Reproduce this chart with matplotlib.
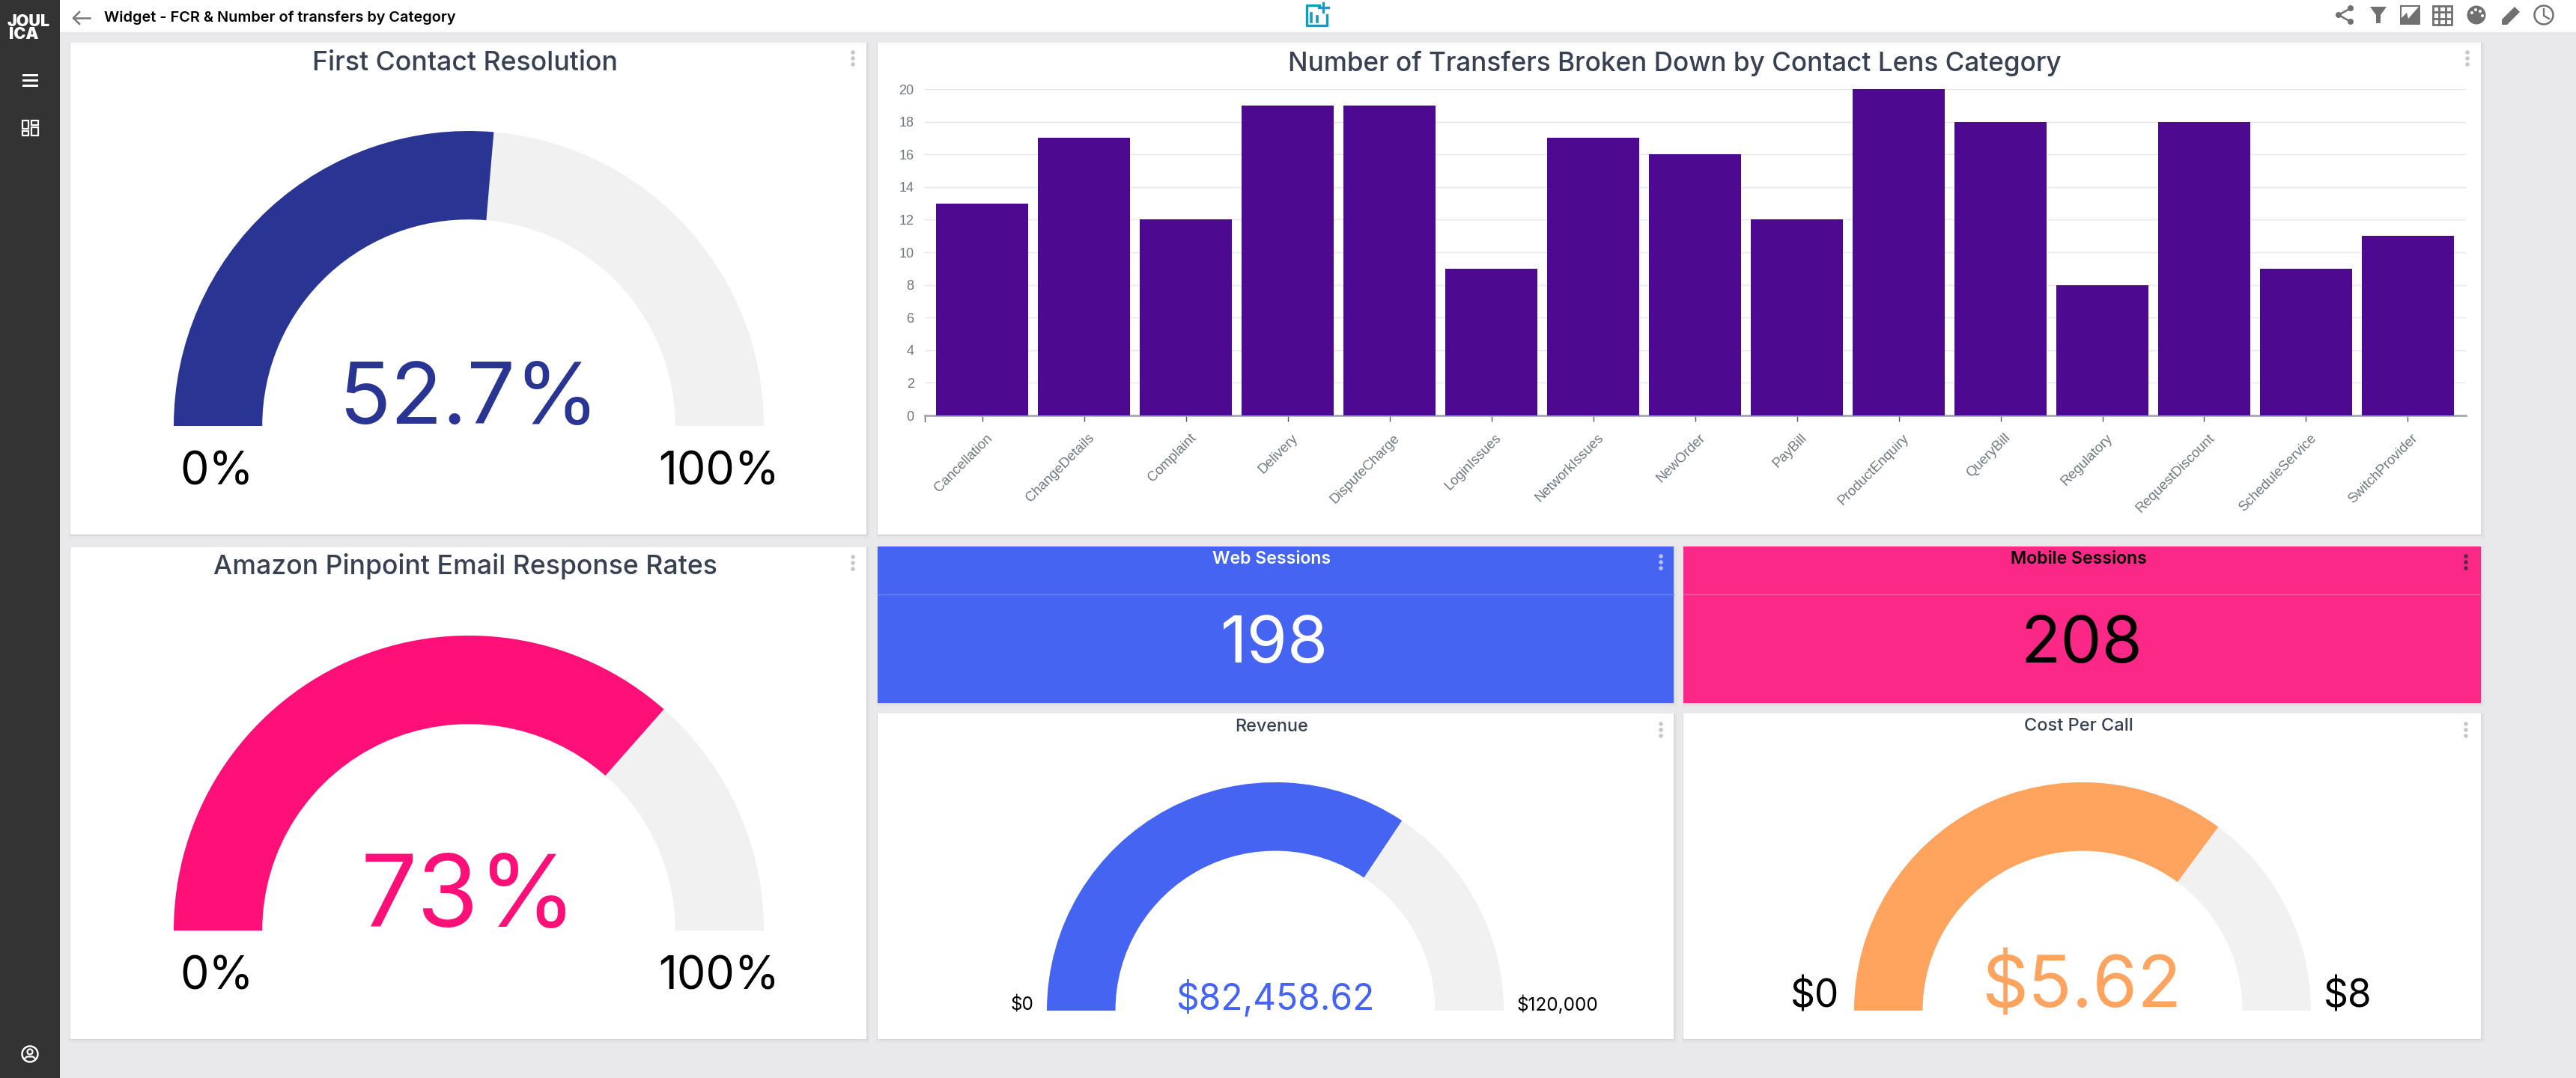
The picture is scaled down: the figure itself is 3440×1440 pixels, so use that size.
from matplotlib.patches import Circle, Polygon, Rectangle, Wedge
from matplotlib.transforms import ScaledTranslation
import matplotlib.pyplot as plt

W, H = 3440, 1440

categories = ["Cancellation", "ChangeDetails", "Complaint", "Delivery", "DisputeCharge",
              "LoginIssues", "NetworkIssues", "NewOrder", "PayBill", "ProductEnquiry",
              "QueryBill", "Regulatory", "RequestDiscount", "ScheduleService", "SwitchProvider"]
transfers = [13, 17, 12, 19, 19, 9, 17, 16, 12, 20, 18, 8, 18, 9, 11]
y_ticks = [0, 2, 4, 6, 8, 10, 12, 14, 16, 18, 20]

fcr_value, fcr_max = 52.7, 100
email_value, email_max = 73, 100
revenue_value, revenue_max = 82458.62, 120000
cost_value, cost_max = 5.62, 8
web_sessions = 198
mobile_sessions = 208

plt.rcParams["font.family"] = ["Inter", "DejaVu Sans"]

fig = plt.figure(figsize=(W / 100, H / 100), dpi=100, facecolor="#E9E9EB")
bg = fig.add_axes([0, 0, 1, 1])
bg.set_xlim(0, W)
bg.set_ylim(H, 0)
bg.axis("off")


def card(x0, y0, x1, y1, color="white"):
    for off, c in [(5, "#E4E4E6"), (2, "#D9D9DB")]:
        bg.add_patch(Rectangle((x0 - 1, y0), x1 - x0 + 1 + off, y1 - y0 + off, fc=c, ec="none"))
    bg.add_patch(Rectangle((x0, y0), x1 - x0, y1 - y0, fc=color, ec="none"))


def dots(x, y, color="#C8C8C8"):
    for dy in (0, 8, 16):
        bg.add_patch(Circle((x, y + dy), 2.8, fc=color, ec="none"))


def gauge(cx, base, radius, hole, value, vmax, color):
    ax = fig.add_axes([(cx - radius) / W, 1 - base / H, 2 * radius / W, radius / H])
    ax.set_xlim(-1, 1)
    ax.set_ylim(0, 1)
    ax.axis("off")
    end = 180 - 180 * value / vmax
    ax.add_patch(Wedge((0, 0), 1, 0, 180, width=1 - hole, fc="#F1F1F1", ec="none"))
    ax.add_patch(Wedge((0, 0), 1, end, 180, width=1 - hole, fc=color, ec="none"))


def label(x, y, s, size, color="black", weight="normal"):
    bg.text(x, y, s, fontsize=size, color=color, weight=weight, ha="center", va="center")


# sidebar and header
bg.add_patch(Rectangle((0, 0), 80, H, fc="#333333", ec="none"))
bg.add_patch(Rectangle((80, 0), W - 80, 43, fc="white", ec="none"))
bg.text(38, 29, "JOUL", fontsize=15.5, color="white", weight="black", ha="center", va="center")
bg.text(32, 46, "ICA", fontsize=15.5, color="white", weight="black", ha="center", va="center")
for y in (100, 107, 114):
    bg.add_patch(Rectangle((30, y - 1.5), 21, 3, fc="white", ec="none"))
for x, y, w, h in [(30, 161, 8, 11), (42, 161, 9, 6), (30, 175, 8, 6), (42, 170, 9, 11)]:
    bg.add_patch(Rectangle((x, y), w, h, fc="none", ec="white", lw=1.6))
bg.add_patch(Circle((40, 1408), 10.5, fc="none", ec="white", lw=1.8))
bg.add_patch(Circle((40, 1405), 3.5, fc="none", ec="white", lw=1.6))
bg.plot([33, 36, 44, 47], [1414, 1411.5, 1411.5, 1414], color="white", lw=1.6)

bg.plot([98, 120], [24, 24], color="#777777", lw=1.8)
bg.plot([106, 98, 106], [16, 24, 32], color="#777777", lw=1.8)
bg.text(139, 24, "Widget - FCR & Number of transfers by Category", fontsize=14.3,
        weight="semibold", color="black", ha="left", va="center")

# add widget icon
teal = "#0E9DC4"
bg.plot([1762, 1745, 1745, 1772, 1772], [7, 7, 34, 34, 20], color=teal, lw=2.4)
bg.plot([1761, 1774], [10, 10], color=teal, lw=2.4)
bg.plot([1767, 1767], [4, 16], color=teal, lw=2.4)
bg.plot([1751, 1751], [18, 29], color=teal, lw=2.6)
bg.plot([1759, 1759], [22, 29], color=teal, lw=2.6)

# toolbar icons
grey = "#707070"
bg.plot([3139, 3123, 3139], [11, 20, 29], color=grey, lw=1.8)
for x, y in [(3139, 11), (3123, 20), (3139, 29)]:
    bg.add_patch(Circle((x, y), 4, fc=grey, ec="none"))
bg.add_patch(Polygon([(3165, 9), (3187, 9), (3179, 20), (3179, 31), (3173, 31), (3173, 20)], fc=grey, ec="none"))
bg.add_patch(Rectangle((3205, 7), 27, 26, fc=grey, ec="none"))
bg.add_patch(Polygon([(3207, 9), (3230, 9), (3216, 25), (3214, 17), (3207, 24)], fc="white", ec="none"))
bg.add_patch(Rectangle((3249, 8), 25, 25, fc="white", ec=grey, lw=2))
for t in (1 / 3, 2 / 3):
    bg.plot([3249 + 25 * t] * 2, [8, 33], color=grey, lw=2)
    bg.plot([3249, 3274], [8 + 25 * t] * 2, color=grey, lw=2)
bg.add_patch(Circle((3307, 20), 12.5, fc=grey, ec="none"))
for x, y in [(3301, 17), (3306, 13), (3312, 15), (3315, 21)]:
    bg.add_patch(Circle((x, y), 2, fc="white", ec="none"))
bg.add_patch(Polygon([(3341, 33), (3341, 26), (3358, 9), (3365, 16), (3348, 33)], fc=grey, ec="none"))
bg.add_patch(Circle((3397, 20), 12.5, fc="none", ec=grey, lw=1.8))
bg.plot([3397, 3397, 3404], [12, 21, 25], color=grey, lw=1.6)

# cards
card(94, 57, 1157, 714)
card(1172, 57, 3313, 714)
card(94, 731, 1157, 1388)
card(1172, 730, 2235, 939, "#4464F1")
card(2248, 730, 3313, 939, "#FB2887")
card(1172, 953, 2235, 1388)
card(2248, 953, 3313, 1388)
bg.plot([1172, 2235], [794, 794], color="#6A83F3", lw=1)
bg.plot([2248, 3313], [794, 794], color="#FC5AA3", lw=1)

for x, y, c in [(1139, 70, "#C8C8C8"), (3295, 70, "#C8C8C8"), (1139, 744, "#C8C8C8"),
                (2218, 743, "#B4C1F8"), (3293, 743, "#5A2A45"),
                (2218, 967, "#C8C8C8"), (3293, 967, "#C8C8C8")]:
    dots(x, y, c)

# titles
title_color = "#374151"
label(621, 85, "First Contact Resolution", 25.7, title_color, "medium")
label(2236, 85, "Number of Transfers Broken Down by Contact Lens Category", 25.3, title_color, "medium")
label(621, 757, "Amazon Pinpoint Email Response Rates", 25.6, title_color, "medium")
label(1698, 747, "Web Sessions", 16.6, "white", "semibold")
label(2776, 747, "Mobile Sessions", 16.6, "black", "semibold")
label(1698, 971, "Revenue", 16.8, title_color, "medium")
label(2776, 970, "Cost Per Call", 17, title_color, "medium")

# gauges
gauge(626, 569, 394, 0.7, fcr_value, fcr_max, "#2A3593")
gauge(626, 1243, 394, 0.7, email_value, email_max, "#FF0F78")
gauge(1703, 1350, 305, 0.7, revenue_value, revenue_max, "#4464F1")
gauge(2781, 1350, 305, 0.7, cost_value, cost_max, "#FFA45F")

label(627, 536, f"{fcr_value}%", 82, "#2A3593")
label(290, 631, "0%", 44)
label(960, 631, "100%", 44)
label(626, 1203, f"{email_value}%", 96, "#FF0F78")
label(290, 1305, "0%", 44)
label(960, 1305, "100%", 44)
label(1703, 1334, f"${revenue_value:,.2f}", 34.4, "#4464F1")
label(1365, 1342, "$0", 17.5)
label(2080, 1342, f"${revenue_max:,}", 17.5)
label(2780, 1320, f"${cost_value}", 69.5, "#FFA45F")
label(2424, 1332, "$0", 37)
label(3135, 1332, f"${cost_max}", 37)

label(1702, 862, str(web_sessions), 63, "white")
label(2780, 862, str(mobile_sessions), 63, "black")

# bar chart
left, right, top, bottom = 1234.6, 3293, 119, 555
ax = fig.add_axes([left / W, 1 - bottom / H, (right - left) / W, (bottom - top) / H])
ax.patch.set_alpha(0)
xpos = list(range(len(categories)))
ax.bar(xpos, transfers, width=0.9, color="#4D0A91", zorder=3)
ax.set_xlim(-0.566, 14.57)
ax.set_ylim(0, 20)
ax.set_yticks(y_ticks)
ax.grid(axis="y", color="#E6E6E6", lw=1, zorder=0)
ax.set_axisbelow(True)
for s in ("top", "left", "right"):
    ax.spines[s].set_visible(False)
ax.spines["bottom"].set_color("#A4A8AC")
ax.spines["bottom"].set_linewidth(2)
ax.tick_params(axis="y", length=0, pad=10, labelsize=13, labelcolor="#6E7880")
ax.set_yticklabels([str(v) for v in y_ticks], family=["Liberation Sans"])
ax.set_xticks(xpos)
ax.set_xticklabels(categories, rotation=45, ha="right", rotation_mode="anchor",
                   fontsize=13.3, color="#6E7880", family=["Liberation Sans"])
ax.tick_params(axis="x", length=5.5, width=1, color="#555555", pad=10)
shift = ScaledTranslation(5 / 100, 0, fig.dpi_scale_trans)
for tl in ax.get_xticklabels():
    tl.set_transform(tl.get_transform() + shift)
ax.plot([-0.566, -0.566], [0, -0.36], color="#555555", lw=1, clip_on=False)

fig.savefig("out.png", dpi=100, facecolor=fig.get_facecolor())
